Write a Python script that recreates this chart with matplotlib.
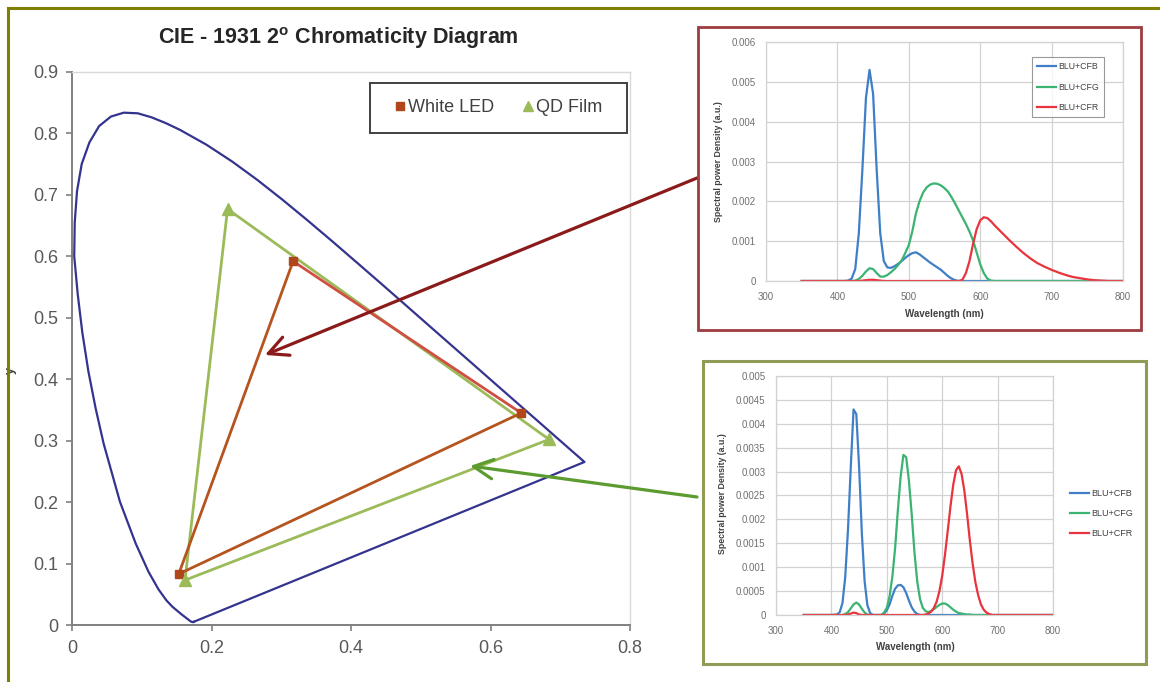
import matplotlib
matplotlib.use('Agg')
import matplotlib.pyplot as plt
from matplotlib.lines import Line2D
from matplotlib.patches import Rectangle
from matplotlib.ticker import FuncFormatter

plt.rcParams['font.family'] = ['Liberation Sans', 'DejaVu Sans']
plt.rcParams['mathtext.fontset'] = 'custom'
plt.rcParams['mathtext.rm'] = 'Liberation Sans'
plt.rcParams['mathtext.bf'] = 'Liberation Sans:bold'

# ---------------- main chart data ----------------
locus_x = [0.1741, 0.1733, 0.1714, 0.1689, 0.1644, 0.1566, 0.1440, 0.1355, 0.1241, 0.1096,
           0.0913, 0.0687, 0.0454, 0.0340, 0.0235, 0.0148, 0.0082, 0.0032, 0.0039, 0.0072,
           0.0139, 0.0250, 0.0389, 0.0558, 0.0743, 0.0942, 0.1142, 0.1345,
           0.1547, 0.1929, 0.2296, 0.2658, 0.3016, 0.3373, 0.3731, 0.4087, 0.4441, 0.4788,
           0.5125, 0.5448, 0.5752, 0.6029, 0.6270, 0.6482, 0.6658, 0.6915, 0.7079, 0.7190,
           0.7260, 0.7300, 0.7334, 0.7347, 0.1741]
locus_y = [0.0050, 0.0048, 0.0051, 0.0069, 0.0109, 0.0177, 0.0297, 0.0399, 0.0578, 0.0868,
           0.1327, 0.2007, 0.2950, 0.3520, 0.4127, 0.4760, 0.5384, 0.6000, 0.6548, 0.7060,
           0.7502, 0.7855, 0.8120, 0.8275, 0.8338, 0.8328, 0.8262, 0.8168,
           0.8059, 0.7816, 0.7543, 0.7243, 0.6923, 0.6589, 0.6245, 0.5896, 0.5547, 0.5202,
           0.4866, 0.4544, 0.4242, 0.3965, 0.3725, 0.3514, 0.3340, 0.3083, 0.2920, 0.2809,
           0.2740, 0.2700, 0.2666, 0.2653, 0.0050]

led_x = [0.153, 0.317, 0.644]   # blue, green, red primaries
led_y = [0.083, 0.592, 0.345]
qd_x = [0.162, 0.223, 0.684]
qd_y = [0.073, 0.677, 0.302]

main_xticks = [0, 0.2, 0.4, 0.6, 0.8]
main_yticks = [0, 0.1, 0.2, 0.3, 0.4, 0.5, 0.6, 0.7, 0.8, 0.9]
series_names = ['White LED', 'QD Film']

# ---------------- top inset (White LED) data ----------------
wl_top = [350, 400, 410, 415, 420, 425, 430, 435, 440, 445,
          450, 455, 460, 465, 470, 475, 480, 485, 490, 495,
          500, 505, 510, 515, 520, 525, 530, 535, 540, 545,
          550, 555, 560, 565, 570, 575, 580, 585, 590, 595,
          600, 605, 610, 615, 620, 630, 640, 650, 660, 670,
          680, 690, 700, 710, 720, 730, 740, 750, 760, 770,
          780, 790, 800]
top_cfb = [0, 0, 0, 0.00001, 0.00006, 0.0003, 0.0012, 0.0028, 0.0046, 0.0053,
           0.0047, 0.0028, 0.0012, 0.0005, 0.00034, 0.00033, 0.00037, 0.00043, 0.0005, 0.00058,
           0.00065, 0.0007, 0.00072, 0.00067, 0.0006, 0.00053, 0.00046, 0.0004, 0.00034, 0.00028,
           0.0002, 0.00012, 0.00006, 0.00002, 0, 0, 0, 0, 0, 0,
           0, 0, 0, 0, 0, 0, 0, 0, 0, 0,
           0, 0, 0, 0, 0, 0, 0, 0, 0, 0,
           0, 0, 0]
top_cfg = [0, 0, 0, 0, 0, 0.00001, 0.00005, 0.00013, 0.00024, 0.00032,
           0.0003, 0.0002, 0.00011, 0.00011, 0.00015, 0.00022, 0.0003, 0.0004, 0.00052, 0.0007,
           0.0009, 0.00125, 0.0017, 0.002, 0.00222, 0.00235, 0.00242, 0.00245, 0.00244, 0.0024,
           0.00233, 0.00224, 0.0021, 0.00194, 0.00177, 0.0016, 0.00143, 0.00124, 0.00102, 0.00072,
           0.00042, 0.0002, 0.00006, 0.00001, 0, 0, 0, 0, 0, 0,
           0, 0, 0, 0, 0, 0, 0, 0, 0, 0,
           0, 0, 0]
top_cfr = [0, 0, 0, 0, 0, 0, 0, 0.00001, 0.00002, 0.00003,
           0.00003, 0.00002, 0.00001, 0, 0, 0, 0, 0, 0, 0,
           0, 0, 0, 0, 0, 0, 0, 0, 0, 0,
           0, 0, 0, 0, 0, 0.00003, 0.0002, 0.0005, 0.00093, 0.0013,
           0.00152, 0.0016, 0.00158, 0.0015, 0.0014, 0.00122, 0.00104, 0.00087, 0.00071, 0.00057,
           0.00045, 0.00036, 0.00028, 0.00021, 0.00015, 0.0001, 0.00007, 0.00004, 0.00002, 0.00001,
           0, 0, 0]
top_yticks = [0, 0.001, 0.002, 0.003, 0.004, 0.005, 0.006]

# ---------------- bottom inset (QD Film) data ----------------
wl_bot = [350, 400, 410, 415, 420, 425, 430, 435, 440, 445,
          450, 455, 460, 465, 470, 475, 480, 485, 490, 495,
          500, 505, 510, 515, 520, 525, 530, 535, 540, 545,
          550, 555, 560, 565, 570, 575, 580, 585, 590, 595,
          600, 605, 610, 615, 620, 625, 630, 635, 640, 645,
          650, 655, 660, 665, 670, 675, 680, 685, 690, 700,
          750, 800]
bot_cfb = [0, 0, 0.00001, 0.00006, 0.00025, 0.0008, 0.0018, 0.0031, 0.0043, 0.0042,
           0.0031, 0.0017, 0.0007, 0.0002, 0.00004, 0, 0, 0, 0, 0.00003,
           0.0001, 0.00022, 0.0004, 0.00055, 0.00062, 0.00063, 0.00058, 0.00046, 0.0003, 0.00016,
           0.00007, 0.00002, 0, 0, 0, 0, 0, 0, 0, 0,
           0, 0, 0, 0, 0, 0, 0, 0, 0, 0,
           0, 0, 0, 0, 0, 0, 0, 0, 0, 0,
           0, 0]
bot_cfg = [0, 0, 0, 0, 0, 0.00002, 0.00006, 0.00014, 0.00022, 0.00026,
           0.00022, 0.00013, 0.00005, 0.00001, 0, 0, 0, 0, 0, 0.00005,
           0.00015, 0.00039, 0.0008, 0.0014, 0.0022, 0.0029, 0.00335, 0.0033, 0.0028, 0.0021,
           0.0013, 0.0007, 0.00033, 0.00015, 0.00008, 0.00006, 0.00008, 0.00012, 0.00017, 0.00021,
           0.00024, 0.00024, 0.00021, 0.00016, 0.00011, 0.00007, 0.00004, 0.00003, 0.00002, 0.00001,
           0.00001, 0, 0, 0, 0, 0, 0, 0, 0, 0,
           0, 0]
bot_cfr = [0, 0, 0, 0, 0, 0, 0.00001, 0.00003, 0.00005, 0.00004,
           0.00001, 0, 0, 0, 0, 0, 0, 0, 0, 0,
           0, 0, 0, 0, 0, 0, 0, 0, 0, 0,
           0, 0, 0, 0, 0.00001, 0.00003, 0.00007, 0.00015, 0.00028, 0.0005,
           0.00082, 0.00126, 0.00176, 0.00228, 0.00273, 0.00303, 0.00311, 0.00295, 0.0026, 0.0021,
           0.00155, 0.00107, 0.00068, 0.00041, 0.00022, 0.00011, 0.00005, 0.00002, 0, 0,
           0, 0]
bot_yticks = [0, 0.0005, 0.001, 0.0015, 0.002, 0.0025, 0.003, 0.0035, 0.004, 0.0045, 0.005]

spec_names = ['BLU+CFB', 'BLU+CFG', 'BLU+CFR']
spec_xticks = [300, 400, 500, 600, 700, 800]

# ---------------- figure ----------------
W, H = 1160, 682
fig = plt.figure(figsize=(W / 100, H / 100), dpi=100)
fig.patch.set_facecolor('white')

def fx(px):
    return px / W

def fy(py):
    return 1 - py / H

# olive frame (top + left)
fig.add_artist(Line2D([fx(7.5), 1.0], [fy(7.5), fy(7.5)], color='#808000', lw=2.2))
fig.add_artist(Line2D([fx(7.5), fx(7.5)], [fy(7.5), 0.0], color='#808000', lw=2.2))

# ---- main axes ----
ax = fig.add_axes([fx(72), fy(625), fx(630) - fx(72), fy(72) - fy(625)])
ax.set_xlim(0, 0.8)
ax.set_ylim(0, 0.9)
ax.plot(locus_x, locus_y, color='#34348f', lw=1.6, zorder=2)

qd_col = '#9bbb59'
led_seg_cols = ['#b5541e', '#cf4f45', '#b5541e']
for i in range(3):
    j = (i + 1) % 3
    ax.plot([qd_x[i], qd_x[j]], [qd_y[i], qd_y[j]], color=qd_col, lw=2.0, zorder=3)
for i in range(3):
    j = (i + 1) % 3
    ax.plot([led_x[i], led_x[j]], [led_y[i], led_y[j]], color=led_seg_cols[i], lw=2.0, zorder=4)
ax.plot(led_x, led_y, 's', color='#b0461a', ms=6, zorder=5)
ax.plot(qd_x, qd_y, '^', color=qd_col, ms=8, zorder=5)

ax.set_xticks(main_xticks)
ax.set_yticks(main_yticks)
fmt = FuncFormatter(lambda v, p: f'{v:g}')
ax.xaxis.set_major_formatter(fmt)
ax.yaxis.set_major_formatter(fmt)
ax.tick_params(direction='out', length=4, width=1.2, color='#808080',
               labelsize=13, labelcolor='#595959')
ax.tick_params(axis='x', pad=7)
ax.tick_params(axis='y', pad=6)
for s in ['left', 'bottom']:
    ax.spines[s].set_color('#808080')
    ax.spines[s].set_linewidth(1.4)
for s in ['top', 'right']:
    ax.spines[s].set_color('#d9d9d9')
    ax.spines[s].set_linewidth(1.0)
ax.set_ylabel('y', fontsize=9, fontweight='bold', color='#404040')
ax.yaxis.set_label_coords(-0.098, 0.46)

# legend box
ax.add_patch(Rectangle((0.534, 0.8897), 0.4606, 0.0904, transform=ax.transAxes,
                       facecolor='white', edgecolor='#404040', lw=1.4, zorder=6))
handles = [Line2D([], [], marker='s', color='#b0461a', ls='None', ms=6),
           Line2D([], [], marker='^', color=qd_col, ls='None', ms=7)]
leg = ax.legend(handles, series_names, loc='center', bbox_to_anchor=(0.764, 0.935),
                ncol=2, frameon=False, fontsize=13, handlelength=0.6,
                handletextpad=0.15, columnspacing=1.6, borderpad=0)
for t in leg.get_texts():
    t.set_color('#404040')
leg.set_zorder(7)

fig.text(fx(338), fy(38), r'CIE - 1931 2$^{\mathbf{o}}$ Chromaticity Diagram',
         ha='center', va='center', fontsize=15.5, fontweight='bold', color='#262626')

# ---- inset boxes ----
fig.add_artist(Rectangle((fx(698), fy(330)), fx(1141) - fx(698), fy(27) - fy(330),
                         transform=fig.transFigure, facecolor='none',
                         edgecolor='#9e3c40', lw=2.0))
fig.add_artist(Rectangle((fx(703), fy(664)), fx(1146) - fx(703), fy(361) - fy(664),
                         transform=fig.transFigure, facecolor='none',
                         edgecolor='#8e9c55', lw=2.2))

spec_cols = ['#3f7fc8', '#3bb372', '#e8343c']
yfmt = FuncFormatter(lambda v, p: f'{v:g}')

def style_inset(a, ymax, yticks):
    a.set_xlim(300, 800)
    a.set_ylim(0, ymax)
    a.set_xticks(spec_xticks)
    a.set_yticks(yticks)
    a.yaxis.set_major_formatter(yfmt)
    a.grid(True, color='#d2d2d2', lw=0.9)
    a.set_axisbelow(True)
    for s in a.spines.values():
        s.set_color('#d2d2d2')
        s.set_linewidth(0.9)
    a.tick_params(length=0, labelsize=7, labelcolor='#707070')
    a.tick_params(axis='x', pad=8)
    a.tick_params(axis='y', pad=7.5)
    a.set_xlabel('Wavelength (nm)', fontsize=7, fontweight='bold', color='#404040')
    a.set_ylabel('Spectral power Density (a.u.)', fontsize=6.3, fontweight='bold', color='#404040')

# top inset
at = fig.add_axes([fx(766), fy(281), fx(1123) - fx(766), fy(42) - fy(281)])
for vals, c, n in zip([top_cfb, top_cfg, top_cfr], spec_cols, spec_names):
    at.plot(wl_top, vals, color=c, lw=1.6, label=n)
style_inset(at, 0.006, top_yticks)
at.xaxis.set_label_coords(0.5, -0.117)
at.yaxis.set_label_coords(-0.12, 0.5)
lg1 = at.legend(loc='upper right', bbox_to_anchor=(0.947, 0.937), borderaxespad=0,
                fontsize=6.3, handlelength=2.2, handletextpad=0.2, labelspacing=1.3,
                fancybox=False, edgecolor='#808080', borderpad=0.6)
lg1.get_frame().set_linewidth(0.8)
for t in lg1.get_texts():
    t.set_color('#404040')

# bottom inset
ab = fig.add_axes([fx(776), fy(615), fx(1053) - fx(776), fy(376) - fy(615)])
for vals, c, n in zip([bot_cfb, bot_cfg, bot_cfr], spec_cols, spec_names):
    ab.plot(wl_bot, vals, color=c, lw=1.6, label=n)
style_inset(ab, 0.005, bot_yticks)
ab.xaxis.set_label_coords(0.502, -0.113)
ab.yaxis.set_label_coords(-0.177, 0.508)
lg2 = ab.legend(loc='center left', bbox_to_anchor=(1.06, 0.425), borderaxespad=0,
                fontsize=6.5, handlelength=2.2, handletextpad=0.2, labelspacing=1.2,
                frameon=False, borderpad=0)
for t in lg2.get_texts():
    t.set_color('#404040')

# ---- arrows from insets to triangles ----
ax.annotate('', xy=(0.2767, 0.4395), xycoords='data',
            xytext=(fx(697), fy(178)), textcoords='figure fraction',
            arrowprops=dict(arrowstyle='->,head_length=0.7,head_width=0.35',
                            mutation_scale=20, color='#8b1a1a', lw=2.3,
                            shrinkA=0, shrinkB=0),
            annotation_clip=False, zorder=10)
ax.annotate('', xy=(0.5706, 0.2588), xycoords='data',
            xytext=(fx(697), fy(497)), textcoords='figure fraction',
            arrowprops=dict(arrowstyle='->,head_length=0.7,head_width=0.35',
                            mutation_scale=20, color='#5b9b2f', lw=2.3,
                            shrinkA=0, shrinkB=0),
            annotation_clip=False, zorder=10)

fig.savefig('out.png', dpi=100, facecolor='white')
